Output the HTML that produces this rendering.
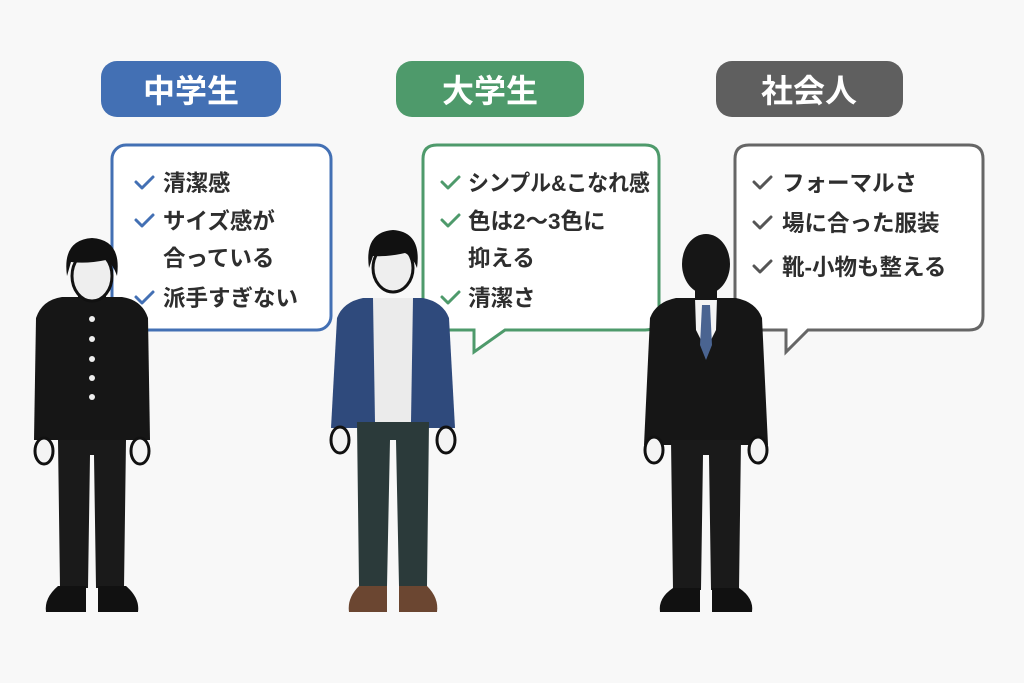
<!DOCTYPE html>
<html><head><meta charset="utf-8"><style>
html,body{margin:0;padding:0;background:#f8f8f8;}
svg{display:block;}
text{font-family:"Liberation Sans","Noto Sans CJK JP",sans-serif;}
.t{font-size:22.5px;font-weight:bold;fill:#2e2e2e;}
.h{font-size:32px;font-weight:bold;fill:#fff;}
</style></head><body>
<svg width="1024" height="683" viewBox="0 0 1024 683" xmlns="http://www.w3.org/2000/svg">
<rect width="1024" height="683" fill="#f8f8f8"/>
<rect x="101" y="61" width="180" height="56" rx="16" fill="#4370b4"/>
<text x="191" y="102" text-anchor="middle" class="h">中学生</text>
<rect x="396" y="61" width="188" height="56" rx="16" fill="#4e9a6b"/>
<text x="490" y="102" text-anchor="middle" class="h">大学生</text>
<rect x="716" y="61" width="187" height="56" rx="16" fill="#5f5f5f"/>
<text x="809" y="102" text-anchor="middle" class="h">社会人</text>

<rect x="112" y="145" width="219" height="185" rx="14" fill="#fff" stroke="#4370b4" stroke-width="3"/>
<path d="M437,145 H645 Q659,145 659,159 V316 Q659,330 645,330 H505 L474,352 L474,330 H437 Q423,330 423,316 V159 Q423,145 437,145 Z" fill="#fff" stroke="#4e9a6b" stroke-width="3"/>
<path d="M749,145 H969 Q983,145 983,159 V316 Q983,330 969,330 H808 L786,352 L786,330 H749 Q735,330 735,316 V159 Q735,145 749,145 Z" fill="#fff" stroke="#666" stroke-width="3"/>

<g fill="none" stroke-width="3" stroke-linecap="round" stroke-linejoin="round">
<g stroke="#4370b4">
<path d="M136,182 l6,6 l11,-11"/><path d="M136,220 l6,6 l11,-11"/><path d="M136,297 l6,6 l11,-11"/>
</g>
<g stroke="#4e9a6b">
<path d="M442,182 l6,6 l11,-11"/><path d="M442,220 l6,6 l11,-11"/><path d="M442,297 l6,6 l11,-11"/>
</g>
<g stroke="#555">
<path d="M754,182 l6,6 l11,-11"/><path d="M754,222 l6,6 l11,-11"/><path d="M754,266 l6,6 l11,-11"/>
</g>
</g>
<text x="163" y="191" class="t">清潔感</text>
<text x="163" y="229" class="t">サイズ感が</text>
<text x="163" y="266" class="t">合っている</text>
<text x="163" y="306" class="t">派手すぎない</text>

<text x="468" y="191" class="t" textLength="182" lengthAdjust="spacingAndGlyphs">シンプル&amp;こなれ感</text>
<text x="468" y="229" class="t">色は2〜3色に</text>
<text x="468" y="266" class="t">抑える</text>
<text x="468" y="306" class="t">清潔さ</text>

<text x="782" y="191" class="t">フォーマルさ</text>
<text x="782" y="231" class="t">場に合った服装</text>
<text x="782" y="275" class="t">靴-小物も整える</text>

<!-- figure 1 -->
<g transform="translate(92,0)">
<path d="M-56,318 Q-50,300 -30,297 L30,297 Q50,300 56,318 L58,440 L-58,440 Z" fill="#161616"/>
<path d="M-34,440 L-32,588 L-4,588 L-2,455 L2,455 L4,588 L32,588 L34,440 Z" fill="#1a1a1a"/>
<path d="M-34,586 L-6,586 L-6,612 L-46,612 Q-48,598 -34,586 Z" fill="#111"/>
<path d="M34,586 L6,586 L6,612 L46,612 Q48,598 34,586 Z" fill="#111"/>
<rect x="-14" y="288" width="28" height="14" fill="#161616"/>
<g fill="#eee"><circle cx="0" cy="319" r="3"/><circle cx="0" cy="339" r="3"/><circle cx="0" cy="359" r="3"/><circle cx="0" cy="378" r="3"/><circle cx="0" cy="397" r="3"/></g>
<g fill="#f4f4f4" stroke="#111" stroke-width="3"><ellipse cx="-48" cy="451" rx="9" ry="13"/><ellipse cx="48" cy="451" rx="9" ry="13"/></g>
<ellipse cx="0" cy="276" rx="20" ry="25" fill="#eee" stroke="#111" stroke-width="3"/>
<path d="M-25,276 Q-30,240 0,238 Q30,240 25,276 Q21,264 14,260 Q-5,264 -21,262 Z" fill="#111"/>
</g>

<!-- figure 2 -->
<g transform="translate(393,0)">
<path d="M-56,318 Q-50,302 -30,298 L30,298 Q50,302 56,318 L62,428 L-62,428 Z" fill="#2f4a7c"/>
<path d="M-20,298 L20,298 L18,422 L-18,422 Z" fill="#ebebeb"/>
<path d="M-36,422 L-34,586 L-6,586 L-3,440 L3,440 L6,586 L34,586 L36,422 Z" fill="#2b3a3a"/>
<path d="M-34,586 L-6,586 L-6,612 L-44,612 Q-46,598 -34,586 Z" fill="#6b4631"/>
<path d="M34,586 L6,586 L6,612 L44,612 Q46,598 34,586 Z" fill="#6b4631"/>
<g fill="#f4f4f4" stroke="#111" stroke-width="3"><ellipse cx="-53" cy="440" rx="9" ry="13"/><ellipse cx="53" cy="440" rx="9" ry="13"/></g>
<ellipse cx="0" cy="268" rx="20" ry="24" fill="#eee" stroke="#111" stroke-width="3"/>
<path d="M-24,268 Q-29,232 0,230 Q29,232 24,268 Q20,257 12,253 Q-5,257 -20,256 Z" fill="#111"/>
</g>

<!-- figure 3 -->
<g transform="translate(706,0)">
<path d="M-56,318 Q-50,302 -30,298 L30,298 Q50,302 56,318 L62,445 L-62,445 Z" fill="#161616"/>
<path d="M-11,298 L11,298 L10,330 L0,350 L-10,330 Z" fill="#f4f4f4"/>
<path d="M-4,305 L4,305 L6,345 L0,360 L-6,345 Z" fill="#4a6491"/>
<path d="M-35,440 L-33,590 L-5,590 L-3,455 L3,455 L5,590 L33,590 L35,440 Z" fill="#1a1a1a"/>
<path d="M-33,588 L-6,588 L-6,612 L-46,612 Q-48,598 -33,588 Z" fill="#111"/>
<path d="M33,588 L6,588 L6,612 L46,612 Q48,598 33,588 Z" fill="#111"/>
<g fill="#f4f4f4" stroke="#111" stroke-width="3"><ellipse cx="-52" cy="450" rx="9" ry="13"/><ellipse cx="52" cy="450" rx="9" ry="13"/></g>
<ellipse cx="0" cy="264" rx="24" ry="30" fill="#161616"/>
<rect x="-11" y="282" width="22" height="18" fill="#161616"/>
</g>
</svg>
</body></html>
